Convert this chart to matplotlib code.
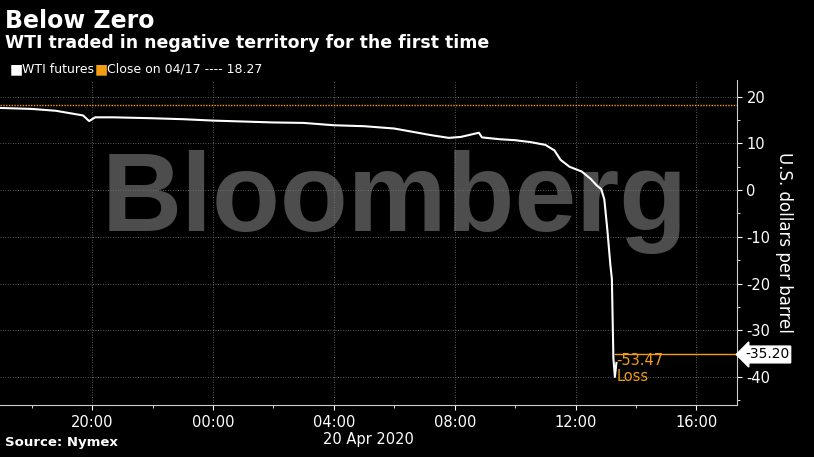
import matplotlib.pyplot as plt
from matplotlib.ticker import MultipleLocator

# hours relative to 00:00 on 20 Apr 2020 (negative = 19 Apr evening)
hours = [-7.02, -6.0, -5.2, -4.3, -4.1, -3.9, -3.3, -2.0, -1.0, 0.0, 1.0, 2.0, 3.0, 3.6,
         4.0, 5.0, 6.0, 7.2, 7.8, 8.2, 8.8, 8.9, 9.5, 10.0, 10.5, 11.0, 11.3, 11.5,
         11.8, 12.2, 12.5, 12.7, 12.85, 12.95, 13.05, 13.15, 13.2, 13.25, 13.3, 13.35]
prices = [17.6, 17.4, 17.0, 16.0, 14.8, 15.6, 15.6, 15.4, 15.2, 14.9, 14.7, 14.5, 14.4, 14.1,
          13.9, 13.7, 13.2, 11.8, 11.2, 11.4, 12.3, 11.3, 10.9, 10.7, 10.3, 9.7, 8.5, 6.5,
          5.0, 4.0, 2.4, 1.0, 0.2, -2.0, -8.5, -16.0, -19.0, -36.0, -40.0, -37.0]
prev_close = 18.27
last_price = -35.20
loss = -53.47

xticks = [-4, 0, 4, 8, 12, 16]
xlabels = ["20:00", "00:00", "04:00", "08:00", "12:00", "16:00"]
yticks = [-40, -30, -20, -10, 0, 10, 20]

orange = "#f39c12"
fig = plt.figure(figsize=(8.14, 4.57), dpi=100, facecolor="black")
ax = fig.add_axes([0.0, 0.114, 0.905, 0.711], facecolor="black")
ax.set_xlim(-7.05, 17.33)
ax.set_ylim(-46, 23.6)

ax.text(6.0, -2.5, "Bloomberg", fontsize=80, fontweight="bold", color="#4d4d4d",
        family="Liberation Sans", ha="center", va="center", zorder=0)

for t in xticks:
    ax.axvline(t, color="#777777", lw=0.6, ls=(0, (1, 2)), zorder=1)
for t in yticks:
    ax.axhline(t, color="#777777", lw=0.6, ls=(0, (1, 2)), zorder=1)

ax.axhline(prev_close, color=orange, lw=1, ls=(0, (1, 1)), zorder=2)
ax.plot(hours, prices, color="white", lw=1.5, zorder=3)
ax.plot([hours[-2], 17.33], [last_price, last_price], color=orange, lw=1, zorder=2)
ax.text(hours[-2] + 0.05, -38.2, f"{loss:.2f}\nLoss", color=orange, fontsize=10.5,
        va="center", ha="left", linespacing=1.1)

ax.yaxis.tick_right()
ax.yaxis.set_label_position("right")
ax.set_yticks(yticks)
ax.set_yticklabels([str(v) for v in yticks])
ax.yaxis.set_minor_locator(MultipleLocator(5))
ax.set_xticks(xticks)
ax.set_xticklabels(xlabels)
ax.xaxis.set_minor_locator(MultipleLocator(2))
ax.tick_params(colors="white", labelsize=10.5, direction="out")
ax.tick_params(which="minor", colors="white")
for s in ["top", "left"]:
    ax.spines[s].set_visible(False)
for s in ["right", "bottom"]:
    ax.spines[s].set_color("#cccccc")
ax.set_ylabel("U.S. dollars per barrel", color="white", fontsize=12, rotation=-90, labelpad=16)
ax.set_xlabel("20 Apr 2020", color="white", fontsize=10.5, labelpad=2)

ax.annotate(f"{last_price:.2f}", xy=(17.33, last_price), xycoords="data",
            xytext=(6, 0), textcoords="offset points", color="black", fontsize=10,
            va="center", ha="left", annotation_clip=False,
            bbox=dict(boxstyle="larrow,pad=0.1", fc="white", ec="white"))

fig.text(0.006, 0.955, "Below Zero", color="white", fontsize=17, fontweight="bold", va="center")
fig.text(0.006, 0.905, "WTI traded in negative territory for the first time", color="white",
         fontsize=12.5, fontweight="bold", va="center")
fig.text(0.012, 0.848, "■", color="white", fontsize=10, va="center")
fig.text(0.027, 0.848, "WTI futures", color="white", fontsize=9, va="center")
fig.text(0.117, 0.848, "■", color=orange, fontsize=10, va="center")
fig.text(0.132, 0.848, f"Close on 04/17 ---- {prev_close}", color="white", fontsize=9, va="center")
fig.text(0.006, 0.018, "Source: Nymex", color="white", fontsize=9.5, fontweight="bold", va="bottom")

fig.savefig("out.png", dpi=100, facecolor="black")
